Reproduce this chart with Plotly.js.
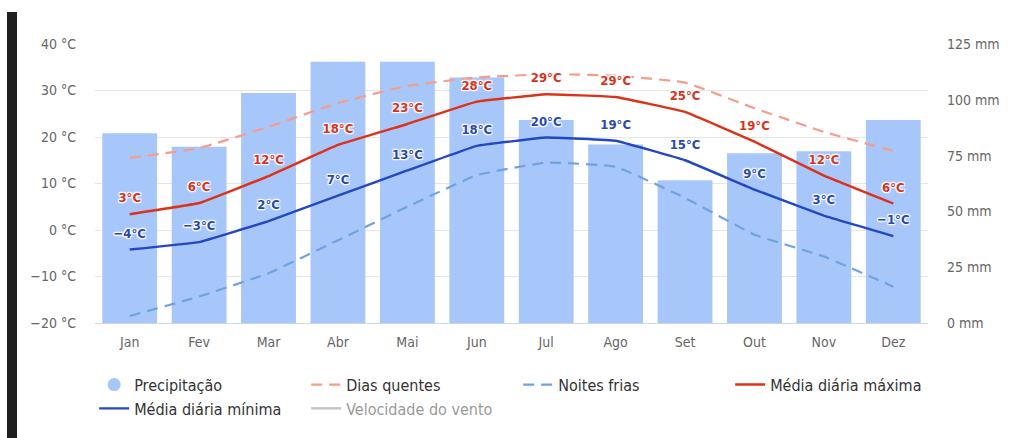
<!DOCTYPE html>
<html>
<head>
<meta charset="utf-8">
<script src="https://cdn.plot.ly/plotly-3.0.1.min.js"></script>
<style>
html,body{margin:0;padding:0;background:#fff;}
#chart{width:1012px;height:438px;}
#edge{position:absolute;left:7px;top:12px;width:10px;height:426px;background:#1f1f1f;}
</style>
</head>
<body>
<div id="chart"></div>
<div id="edge"></div>
<script>
const months = ["Jan","Fev","Mar","Abr","Mai","Jun","Jul","Ago","Set","Out","Nov","Dez"];
const precipitation = [85, 79, 103, 117, 117, 110, 91, 80, 64, 76, 77, 91];
const hotDays = [15.5, 17.6, 22.2, 27.3, 31.0, 32.8, 33.5, 33.2, 31.7, 26.2, 21.1, 17.0];
const coldNights = [-18.5, -14.3, -9.3, -2.2, 5.0, 11.8, 14.5, 13.6, 6.9, -1.0, -5.7, -12.2];
const maxDaily = [3.4, 5.8, 11.6, 18.3, 22.8, 27.6, 29.2, 28.6, 25.4, 19.0, 11.7, 5.7];
const minDaily = [-4.2, -2.6, 1.9, 7.4, 12.8, 18.1, 19.9, 19.2, 15.0, 8.7, 3.1, -1.3];

const fmt = v => { const r = Math.round(v); return (r < 0 ? "\u2212" + Math.abs(r) : r) + "°C"; };
const halo = "1px 1px 1px #fff, -1px -1px 1px #fff, 1px -1px 1px #fff, -1px 1px 1px #fff, 0 0 2px #fff, 0 0 3px #fff";
const FONT = "DejaVu Sans Condensed, DejaVu Sans, sans-serif";
const CLEAR = "rgba(0,0,0,0)";

const traces = [
  {type:"bar", x:months, y:precipitation, name:"Precipitação", legendgroup:"p", showlegend:false,
   marker:{color:"#a7c6fa"}, width:0.79, yaxis:"y", hoverinfo:"y"},
  {type:"scatter", mode:"markers", x:[null], y:[null], name:"Precipitação", legendgroup:"p",
   marker:{color:"#a7c6fa", size:13, symbol:"circle"}, yaxis:"y"},
  {type:"scatter", mode:"lines", x:months, y:hotDays, name:"Dias quentes", yaxis:"y2",
   line:{color:"#f59c8c", width:2.2, dash:"11px,7px", shape:"spline", smoothing:0.3}},
  {type:"scatter", mode:"lines", x:months, y:coldNights, name:"Noites frias", yaxis:"y2",
   line:{color:"#6fa3de", width:2.2, dash:"11px,7px", shape:"spline", smoothing:0.3}},
  {type:"scatter", mode:"lines+markers+text", x:months, y:maxDaily, name:"Média diária máxima", yaxis:"y2",
   line:{color:"#de3218", width:2.4, shape:"spline", smoothing:0.2},
   marker:{size:12, color:CLEAR, line:{width:0}},
   text:maxDaily.map(fmt), textposition:"top center",
   textfont:{family:FONT, size:13, color:"#d8321c", weight:"bold", shadow:halo}},
  {type:"scatter", mode:"lines+markers+text", x:months, y:minDaily, name:"Média diária mínima", yaxis:"y2",
   line:{color:"#2248c4", width:2.4, shape:"spline", smoothing:0.2},
   marker:{size:12, color:CLEAR, line:{width:0}},
   text:minDaily.map(fmt), textposition:"top center",
   textfont:{family:FONT, size:13, color:"#2b48b0", weight:"bold", shadow:halo}},
  {type:"scatter", mode:"lines", x:months, y:months.map(()=>null), name:"Velocidade do vento", yaxis:"y2",
   visible:"legendonly", line:{color:"#888", width:2.4}}
];

const layout = {
  width:1012, height:438,
  margin:{l:95, r:84, t:44, b:115},
  paper_bgcolor:"#fff", plot_bgcolor:"#fff",
  font:{family:FONT, color:"#666", size:13},
  showlegend:true,
  xaxis:{type:"category", range:[-0.5, 11.5], autorange:false, showgrid:false, showline:true,
         linecolor:"#ccd6eb", linewidth:1, ticks:"", tickfont:{size:14, color:"#666"},
         ticklabelstandoff:6, fixedrange:true, zeroline:false},
  yaxis:{side:"right", range:[0,125], dtick:25, ticksuffix:" mm",
         showgrid:false, zeroline:false, tickfont:{size:14, color:"#666"}, ticklabelstandoff:18},
  yaxis2:{overlaying:"y", side:"left", range:[-20,40], dtick:10, ticksuffix:" °C",
          showgrid:true, gridcolor:"#e6e6e6", gridwidth:1, zeroline:false,
          tickfont:{size:14, color:"#666"}, ticklabelstandoff:18},
  legend:{orientation:"h", x:-0.001, xanchor:"left", y:-0.16, yanchor:"top",
          font:{size:16, color:"#333", family:FONT}, entrywidth:167, entrywidthmode:"pixels",
          itemwidth:30, tracegroupgap:0, bgcolor:"rgba(0,0,0,0)"}
};

Plotly.newPlot("chart", traces, layout, {displayModeBar:false});
</script>
</body>
</html>
